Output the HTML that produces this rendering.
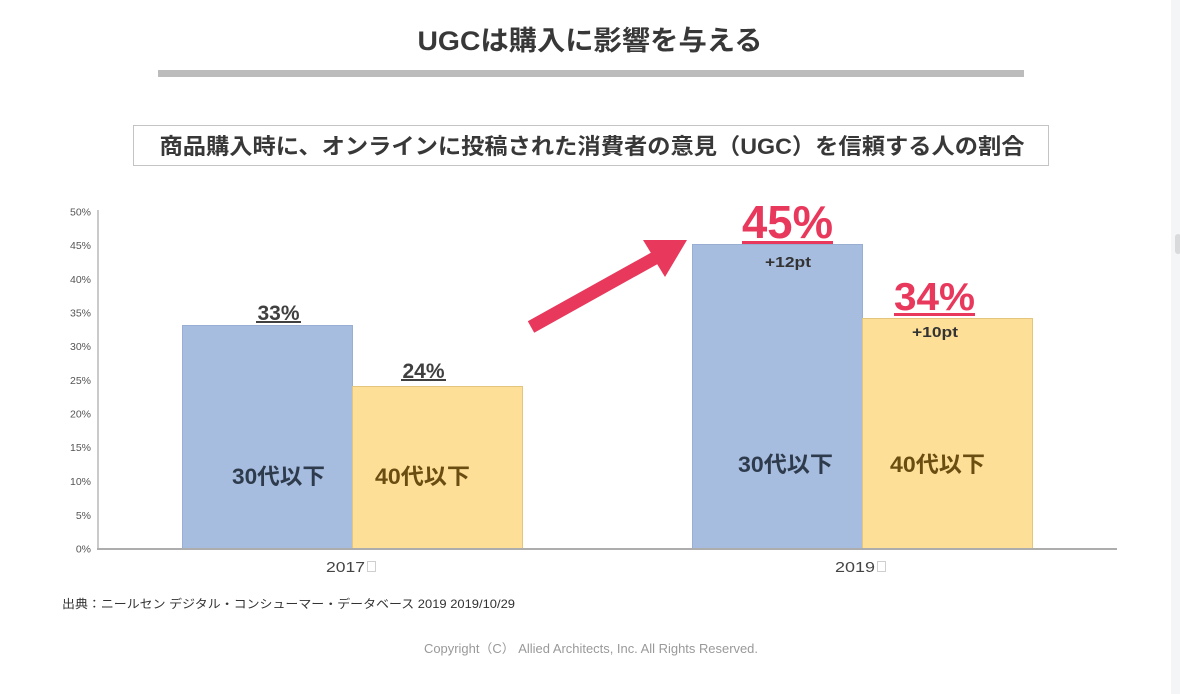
<!DOCTYPE html>
<html>
<head>
<meta charset="utf-8">
<style>
html,body{margin:0;padding:0;background:#fff;}
body{width:1180px;height:694px;overflow:hidden;position:relative;}
svg{position:absolute;left:0;top:0;}
text{font-family:"Liberation Sans","Noto Sans CJK JP",sans-serif;}
</style>
</head>
<body>
<svg width="1180" height="694" viewBox="0 0 1180 694" xmlns="http://www.w3.org/2000/svg">
  <rect x="0" y="0" width="1180" height="694" fill="#ffffff"/>
  <!-- scrollbar strip -->
  <rect x="1171" y="0" width="9" height="694" fill="#f4f5f7"/>
  <rect x="1175" y="234" width="6" height="20" rx="3" fill="#d9dadc"/>

  <!-- Title -->
  <text x="590" y="50" text-anchor="middle" font-size="27" font-weight="bold" fill="#383838" textLength="345" lengthAdjust="spacingAndGlyphs">UGCは購入に影響を与える</text>
  <rect x="158" y="70" width="866" height="7" fill="#bcbcbc"/>

  <!-- Subtitle box -->
  <rect x="133.5" y="125.5" width="915" height="40" fill="#fff" stroke="#c4c4c4" stroke-width="1"/>
  <text x="592" y="154" text-anchor="middle" font-size="22" font-weight="bold" fill="#383838" textLength="865" lengthAdjust="spacingAndGlyphs">商品購入時に、オンラインに投稿された消費者の意見（UGC）を信頼する人の割合</text>

  <!-- Y axis labels -->
  <g font-size="10.5" fill="#555" text-anchor="end">
    <text x="91" y="215.5">50%</text>
    <text x="91" y="249">45%</text>
    <text x="91" y="283">40%</text>
    <text x="91" y="316.5">35%</text>
    <text x="91" y="350">30%</text>
    <text x="91" y="384">25%</text>
    <text x="91" y="417.5">20%</text>
    <text x="91" y="451">15%</text>
    <text x="91" y="485">10%</text>
    <text x="91" y="519">5%</text>
    <text x="91" y="552.5">0%</text>
  </g>

  <!-- Bars -->
  <rect x="182.5" y="325.5" width="170" height="223" fill="#a7bddf" stroke="#98aed2" stroke-width="1"/>
  <rect x="352.5" y="386.5" width="170" height="162" fill="#fedf98" stroke="#e3c57e" stroke-width="1"/>
  <rect x="692.5" y="244.5" width="170" height="304" fill="#a7bddf" stroke="#98aed2" stroke-width="1"/>
  <rect x="862.5" y="318.5" width="170" height="230" fill="#fedf98" stroke="#e3c57e" stroke-width="1"/>

  <!-- Axes -->
  <line x1="98" y1="210" x2="98" y2="549" stroke="#b8b8b8" stroke-width="1.5"/>
  <line x1="97" y1="549" x2="1117" y2="549" stroke="#adadad" stroke-width="2"/>

  <!-- X labels -->
  <text x="326" y="572" font-size="14.5" fill="#444" textLength="39" lengthAdjust="spacingAndGlyphs">2017</text>
  <rect x="367.5" y="561.5" width="8" height="10" fill="none" stroke="#cfcfcf" stroke-width="1"/>
  <text x="835" y="572" font-size="14.5" fill="#444" textLength="40" lengthAdjust="spacingAndGlyphs">2019</text>
  <rect x="877.5" y="561.5" width="8" height="10" fill="none" stroke="#cfcfcf" stroke-width="1"/>

  <!-- 2017 value labels -->
  <text x="278.5" y="320" text-anchor="middle" font-size="21" font-weight="bold" fill="#404040">33%</text>
  <rect x="256" y="321" width="45" height="2" fill="#404040"/>
  <text x="423.5" y="378" text-anchor="middle" font-size="21" font-weight="bold" fill="#404040">24%</text>
  <rect x="401" y="379" width="45" height="2" fill="#404040"/>

  <!-- inner labels -->
  <text x="278.5" y="484" text-anchor="middle" font-size="22" font-weight="bold" fill="#2e3b4c" textLength="93" lengthAdjust="spacingAndGlyphs">30代以下</text>
  <text x="422.5" y="484" text-anchor="middle" font-size="22" font-weight="bold" fill="#6a4d10" textLength="95" lengthAdjust="spacingAndGlyphs">40代以下</text>
  <text x="785.5" y="472" text-anchor="middle" font-size="22" font-weight="bold" fill="#2e3b4c" textLength="95" lengthAdjust="spacingAndGlyphs">30代以下</text>
  <text x="937.5" y="472" text-anchor="middle" font-size="22" font-weight="bold" fill="#6a4d10" textLength="95" lengthAdjust="spacingAndGlyphs">40代以下</text>

  <!-- 2019 red labels -->
  <text x="787.5" y="238" text-anchor="middle" font-size="46" font-weight="bold" fill="#e8385c" textLength="91" lengthAdjust="spacingAndGlyphs">45%</text>
  <rect x="742" y="241" width="91" height="3" fill="#e8385c"/>
  <text x="934.5" y="310" text-anchor="middle" font-size="39" font-weight="bold" fill="#e8385c" textLength="81" lengthAdjust="spacingAndGlyphs">34%</text>
  <rect x="894" y="313" width="81" height="3" fill="#e8385c"/>

  <text x="788" y="267" text-anchor="middle" font-size="15" font-weight="bold" fill="#333" textLength="46" lengthAdjust="spacingAndGlyphs">+12pt</text>
  <text x="935" y="337" text-anchor="middle" font-size="15" font-weight="bold" fill="#333" textLength="46" lengthAdjust="spacingAndGlyphs">+10pt</text>

  <!-- Arrow -->
  <polygon points="527.8,321.3 650.8,252.8 643,240 687,240 665,277 657.2,264.2 534.2,332.7" fill="#e8385c"/>

  <!-- Footnote -->
  <text x="62" y="608" font-size="12" fill="#333" textLength="453" lengthAdjust="spacingAndGlyphs">出典：ニールセン デジタル・コンシューマー・データベース 2019 2019/10/29</text>

  <!-- Copyright -->
  <text x="591" y="653" text-anchor="middle" font-size="12.5" fill="#999" textLength="334" lengthAdjust="spacingAndGlyphs">Copyright（C） Allied Architects, Inc. All Rights Reserved.</text>
</svg>
</body>
</html>
